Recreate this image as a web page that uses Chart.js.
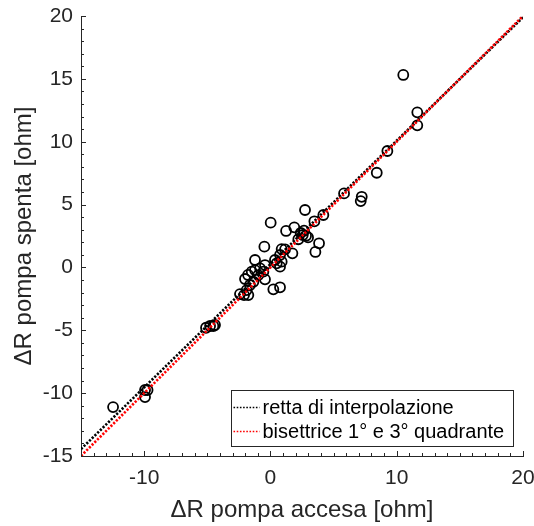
<!DOCTYPE html>
<html>
<head>
<meta charset="utf-8">
<script src="https://cdn.jsdelivr.net/npm/chart.js@4/dist/chart.umd.min.js"></script>
<style>
  html, body { margin: 0; padding: 0; background: #fff; }
  #wrap { width: 534px; height: 526px; }
</style>
</head>
<body>
<div id="wrap"><canvas id="grafico"></canvas></div>
<script>
// misure: variazione di resistenza con pompa accesa / spenta
const pompaAccesa = [10.52, 11.63, 11.63, 9.26, 8.42, 5.83, 7.23, 7.15,
  -12.46, -9.93, -9.93, -9.73, -5.10, -4.78, -4.52, -4.39,
  2.74, 0.02, 3.48, 4.19, 1.89, 1.24, 2.66, 2.82, 2.56, 2.98, 2.21, 3.85, 3.56,
  -0.48, 0.89, 1.16, 1.74, 0.76, 0.36, 0.89, 0.50, 0.76, -1.22, -0.43, -0.82,
  -1.22, -0.56, -1.48, -0.96, -0.43, -2.01, -1.35, -1.62, -1.88, -2.41, -2.09,
  -1.75, 0.23, 0.76, 2.40, -1.77];
const pompaSpenta = [15.31, 12.34, 11.30, 9.26, 7.53, 5.89, 5.62, 5.28,
  -11.11, -9.75, -10.31, -9.75, -4.80, -4.66, -4.66, -4.58,
  4.57, 3.56, 3.67, 4.17, 3.19, 2.90, 2.92, 2.52, 2.58, 2.39, 2.24, 1.92, 1.23,
  1.65, 1.46, 1.44, 1.12, 0.99, 0.59, 0.46, 0.33, 0.06, 0.59, 0.19, -0.07,
  -0.21, -0.34, -0.34, -0.61, -0.95, -0.92, -1.14, -1.40, -1.80, -2.12, -2.20,
  -2.20, -1.74, -1.58, 2.74, -0.60];

// estremi delle due rette
const retteX = [-15, 20];
const rettaInterp = [-14.45, 19.9];
const bisettrice = [-15, 20];

const xTicks = [-10, 0, 10, 20];
const yTicks = [-15, -10, -5, 0, 5, 10, 15, 20];

const FONT = '"Liberation Sans", Arial, sans-serif';
const GRIGIO = '#262626';

function punti(xs, ys) {
  return xs.map((x, i) => ({ x: x, y: ys[i] }));
}

// tacche rivolte verso l'interno (ogni unita', lunghe sui valori etichettati)
const tacche = {
  id: 'tacche',
  afterDatasetsDraw(chart) {
    const ctx = chart.ctx;
    const xs = chart.scales.x, ys = chart.scales.y;
    const a = chart.chartArea;
    ctx.save();
    ctx.strokeStyle = GRIGIO;
    ctx.lineWidth = 1;
    for (let v = -15; v <= 20; v++) {
      let px = Math.round(xs.getPixelForValue(v)) + 0.5;
      let lx = xTicks.includes(v) ? 5 : 3;
      ctx.beginPath();
      ctx.moveTo(px, a.bottom);
      ctx.lineTo(px, a.bottom - lx);
      ctx.stroke();
      let py = Math.round(ys.getPixelForValue(v)) + 0.5;
      let ly = yTicks.includes(v) ? 5 : 3;
      ctx.beginPath();
      ctx.moveTo(a.left, py);
      ctx.lineTo(a.left + ly, py);
      ctx.stroke();
    }
    ctx.restore();
  }
};

// legenda dentro il grafico, in basso a destra
const legenda = {
  id: 'legenda',
  afterDraw(chart) {
    const ctx = chart.ctx;
    const a = chart.chartArea;
    const voci = chart.data.datasets.filter(d => d.type === 'line');
    ctx.save();
    ctx.font = '20px ' + FONT;
    let w = 0;
    voci.forEach(d => { w = Math.max(w, ctx.measureText(d.label).width); });
    const boxW = Math.round(w + 40), boxH = 56;
    const x0 = Math.round(a.right - 10 - boxW) + 0.5;
    const y0 = Math.round(a.bottom - 10 - boxH) + 0.5;
    ctx.fillStyle = '#fff';
    ctx.fillRect(x0, y0, boxW, boxH);
    ctx.strokeStyle = GRIGIO;
    ctx.lineWidth = 1;
    ctx.strokeRect(x0, y0, boxW, boxH);
    voci.forEach((d, i) => {
      const yy = y0 + 17 + i * 24;
      ctx.strokeStyle = d.borderColor;
      ctx.lineWidth = 1.6;
      ctx.setLineDash([1.6, 1.6]);
      ctx.beginPath();
      ctx.moveTo(x0 + 2, yy);
      ctx.lineTo(x0 + 28, yy);
      ctx.stroke();
      ctx.setLineDash([]);
      ctx.fillStyle = '#000';
      ctx.textBaseline = 'middle';
      ctx.fillText(d.label, x0 + 31, yy + 1);
    });
    ctx.restore();
  }
};

new Chart(document.getElementById('grafico'), {
  type: 'scatter',
  data: {
    datasets: [
      {
        label: 'misure',
        data: punti(pompaAccesa, pompaSpenta),
        borderColor: '#000',
        backgroundColor: 'rgba(0,0,0,0)',
        pointRadius: 5,
        pointBorderWidth: 1.8,
        pointHoverRadius: 5,
        order: 2
      },
      {
        type: 'line',
        label: 'retta di interpolazione',
        data: punti(retteX, rettaInterp),
        borderColor: '#000',
        borderWidth: 2.6,
        borderDash: [2.2, 1.6],
        pointRadius: 0,
        fill: false,
        order: 1
      },
      {
        type: 'line',
        label: 'bisettrice 1° e 3° quadrante',
        data: punti(retteX, bisettrice),
        borderColor: '#ff0000',
        borderWidth: 2.6,
        borderDash: [2.2, 1.6],
        pointRadius: 0,
        fill: false,
        order: 0
      }
    ]
  },
  options: {
    responsive: true,
    maintainAspectRatio: false,
    animation: false,
    layout: { padding: { left: 0, right: 11, top: 16, bottom: 0 } },
    plugins: {
      legend: { display: false },
      tooltip: { enabled: false }
    },
    scales: {
      x: {
        type: 'linear',
        min: -15,
        max: 20,
        afterBuildTicks: s => { s.ticks = xTicks.map(v => ({ value: v })); },
        afterFit: s => { s.height = 70; s.paddingLeft = 0; s.paddingRight = 0; },
        grid: { display: true, drawOnChartArea: false, drawTicks: false },
        border: { display: true, color: GRIGIO, width: 1 },
        ticks: { color: GRIGIO, padding: 10, maxRotation: 0, font: { family: FONT, size: 21 } },
        title: {
          display: true,
          text: 'ΔR pompa accesa [ohm]',
          color: GRIGIO,
          padding: { top: 0, bottom: 1 },
          font: { family: FONT, size: 24 }
        }
      },
      y: {
        type: 'linear',
        min: -15,
        max: 20,
        afterBuildTicks: s => { s.ticks = yTicks.map(v => ({ value: v })); },
        afterFit: s => { s.width = 81; s.paddingTop = 0; s.paddingBottom = 0; },
        grid: { display: true, drawOnChartArea: false, drawTicks: false },
        border: { display: true, color: GRIGIO, width: 1 },
        ticks: { color: GRIGIO, padding: 8, font: { family: FONT, size: 21 } },
        title: {
          display: true,
          text: 'ΔR pompa spenta [ohm]',
          color: GRIGIO,
          padding: { top: 10, bottom: 0 },
          font: { family: FONT, size: 24 }
        }
      }
    }
  },
  plugins: [tacche, legenda]
});
</script>
</body>
</html>
